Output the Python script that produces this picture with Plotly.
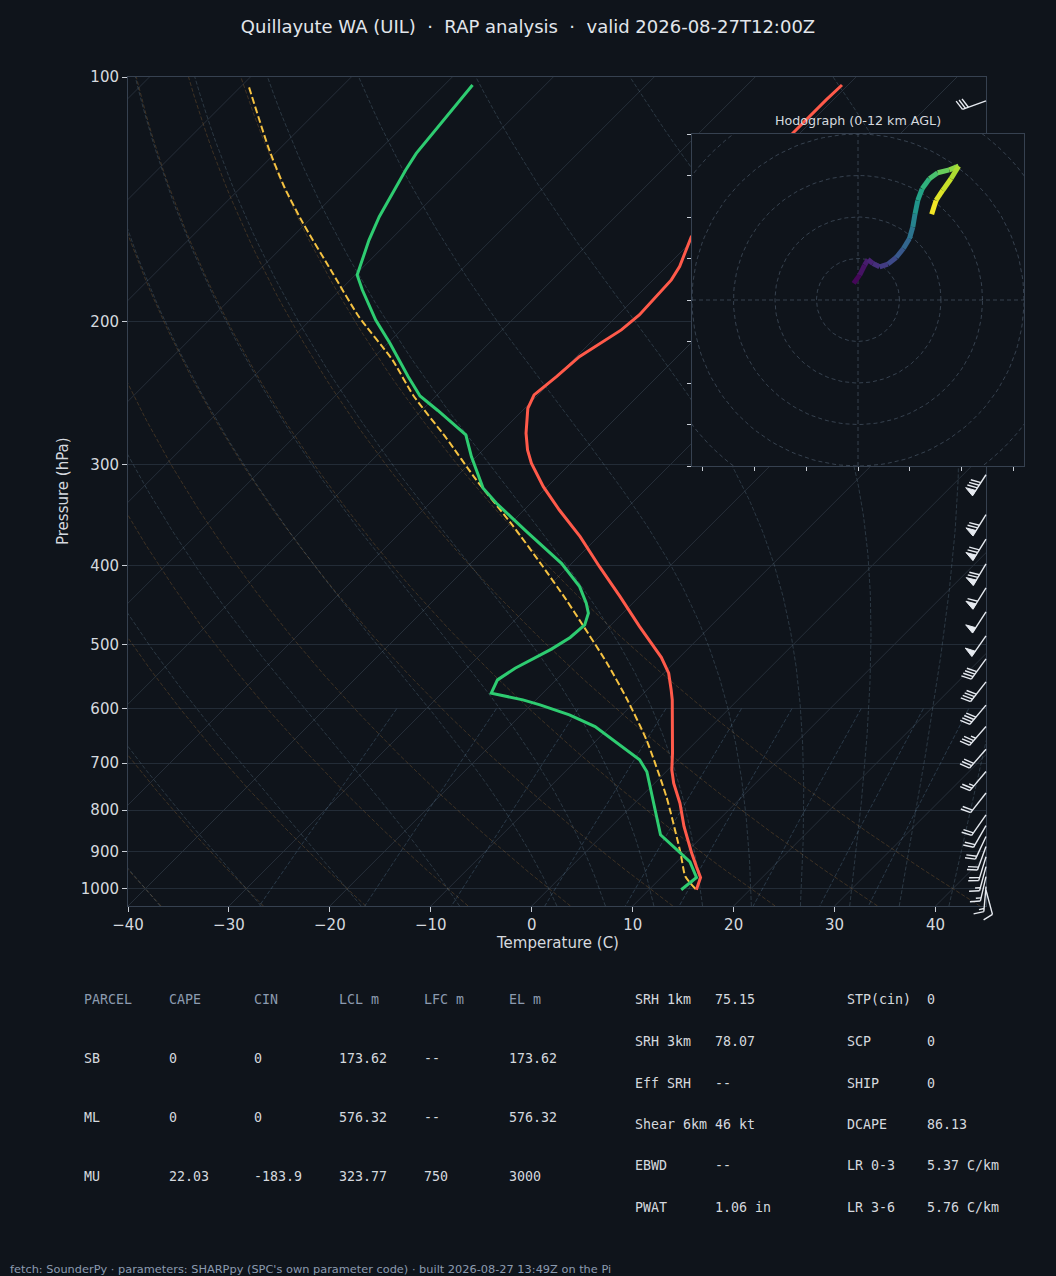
import numpy as np
import plotly.graph_objects as go
from plotly.colors import sample_colorscale

# ---------------- data ----------------
TITLE = "Quillayute WA (UIL)  ·  RAP analysis  ·  valid 2026-08-27T12:00Z"
FOOTER = "fetch: SounderPy · parameters: SHARPpy (SPC's own parameter code) · built 2026-08-27 13:49Z on the Pi"

# temperature profile (hPa, degC)
temp_p = [102.3, 106.7, 117.3, 135.8, 157.3, 171.2, 177.8, 196.4, 204.9, 221.1, 233.9, 246.4,
          255.9, 274.7, 288.0, 299.1, 319.6, 341.5, 368.3, 401.1, 436.6, 475.3, 518.7, 542.5,
          568.8, 585.2, 680.6, 713.9, 741.3, 784.5, 837.9, 903.7, 938.8, 968.5, 1002.8]
temp_c = [-50.6, -50.7, -50.7, -50.7, -50.5, -48.7, -48.2, -47.9, -48.2, -49.7, -50.0, -50.4,
          -49.7, -47.4, -45.6, -43.9, -40.4, -36.5, -31.8, -26.9, -21.9, -17.0, -11.8, -9.5,
          -7.6, -6.5, -1.2, 0.4, 1.9, 4.5, 7.2, 10.6, 12.4, 13.9, 14.7]

# dewpoint profile (hPa, degC)
dewp_p = [102.3, 124.2, 130.2, 148.6, 158.8, 175.4, 183.0, 199.3, 212.8, 233.9, 247.1, 257.5,
          276.0, 293.5, 321.1, 335.0, 363.1, 397.3, 424.4, 444.8, 457.6, 473.1, 490.2, 506.7,
          535.0, 552.9, 574.1, 585.2, 593.6, 610.7, 631.3, 693.6, 717.4, 858.0, 903.7, 926.4,
          968.5, 1002.8]
dewp_c = [-87.2, -86.0, -85.4, -83.4, -82.1, -79.8, -77.8, -73.5, -69.8, -64.7, -61.6, -58.4,
          -53.2, -50.5, -46.2, -43.4, -37.6, -31.0, -26.9, -24.6, -23.4, -22.6, -22.8, -23.5,
          -25.2, -25.8, -25.1, -21.3, -19.1, -15.2, -11.5, -3.8, -1.9, 5.7, 9.5, 11.3,
          13.5, 13.2]

# parcel profile (hPa, degC)
parcel_p = [103.0, 123.0, 137.0, 151.4, 174.5, 197.4, 223.1, 246.4, 278.6, 313.6, 357.9, 401.1,
            440.7, 473.1, 527.3, 582.4, 655.4, 769.9, 903.7, 965.8, 1002.8]
parcel_c = [-109.1, -100.9, -95.6, -90.3, -82.4, -75.5, -67.9, -62.4, -54.8, -47.7, -39.4, -32.5,
            -26.9, -22.8, -16.6, -11.2, -5.1, 2.5, 9.5, 12.3, 14.7]

# wind barbs (hPa, kt, direction from)
barb_p = [107, 309, 346, 371, 398, 426, 456, 488, 521, 556, 594, 631, 673, 717, 762,
          811, 836, 862, 887, 913, 939, 966, 994, 1004]
barb_spd = [30, 80, 70, 70, 70, 60, 50, 50, 40, 40, 40, 35, 30, 25, 20,
            20, 20, 20, 20, 20, 15, 15, 15, 10]
barb_dir = [250, 213, 212, 212, 211, 212, 213, 215, 216, 218, 220, 221, 221, 220, 218,
            215, 210, 205, 200, 197, 195, 193, 185, 165]

# hodograph (kt, kt, km AGL)
hodo_u = [-2.1, 0.8, 3.2, 4.8, 7.2, 10.4, 14.4, 18.4, 21.9, 24.8, 26.4, 27.5, 28.8, 30.9,
          34.4, 38.4, 44.0, 48.5, 44.8, 40.8, 37.6, 35.5]
hodo_v = [8.0, 12.0, 16.8, 19.5, 17.6, 16.0, 17.3, 20.5, 24.8, 29.6, 35.2, 41.6, 48.0, 53.6,
          58.4, 61.3, 62.7, 64.5, 58.4, 52.8, 48.0, 41.3]
hodo_z = [0.0, 0.4, 0.8, 1.0, 1.4, 1.8, 2.4, 3.0, 3.6, 4.2, 5.0, 5.8, 6.6, 7.2,
          8.2, 8.8, 9.6, 10.2, 10.8, 11.2, 11.6, 12.0]
hodo_rings = [20, 40, 60, 80, 100]
hodo_xticks = [-75, -50, -25, 0, 25, 50, 75]
hodo_yticks = [-80, -60, -40, -20, 0, 20, 40, 60, 80]

x_ticks = [-40, -30, -20, -10, 0, 10, 20, 30, 40]
p_ticks = [100, 200, 300, 400, 500, 600, 700, 800, 900, 1000]

# reference lines
dry_t0 = list(range(-40, 41, 10))
moist_t0 = [-40, -30, -20, -10] + list(range(0, 46, 5))
mix_w = [0.0004, 0.001, 0.002, 0.004, 0.007, 0.01, 0.016, 0.024, 0.032]

# tables
parcel_header = ["PARCEL", "CAPE", "CIN", "LCL m", "LFC m", "EL m"]
parcel_rows = [["SB", "0", "0", "173.62", "--", "173.62"],
               ["ML", "0", "0", "576.32", "--", "576.32"],
               ["MU", "22.03", "-183.9", "323.77", "750", "3000"]]
param_left_names = ["SRH 1km", "SRH 3km", "Eff SRH", "Shear 6km", "EBWD", "PWAT"]
param_left_vals = ["75.15", "78.07", "--", "46 kt", "--", "1.06 in"]
param_right_names = ["STP(cin)", "SCP", "SHIP", "DCAPE", "LR 0-3", "LR 3-6"]
param_right_vals = ["0", "0", "0", "86.13", "5.37 C/km", "5.76 C/km"]

# ---------------- geometry ----------------
FIG_W, FIG_H = 1056, 1276
M_L, M_R, M_T, M_B = 128, 30, 77, 330
AREA_W = FIG_W - M_L - M_R
AREA_H = FIG_H - M_T - M_B
MAIN_W, MAIN_H = 858, 829
X_MIN, X_MAX = -40, 45
P_BOT, P_TOP = 1050.0, 100.0
PXC = MAIN_W / (X_MAX - X_MIN)
PXD = MAIN_H / (np.log10(P_BOT) - np.log10(P_TOP))
SKEW = PXD / PXC  # 45 degree isotherms

BG = "#0f141b"
FRAME = "#364150"
TICKC = "#c9ced6"
TXT = "#d5d9df"
HDR = "#8c9bb0"
FONT = "DejaVu Sans"
MONO = "DejaVu Sans Mono"


def skx(t, p):
    return np.asarray(t, float) + SKEW * np.log10(P_BOT / np.asarray(p, float))


def px2paper(px, py):
    return (px - M_L) / AREA_W, (M_T + AREA_H - py) / AREA_H


fig = go.Figure()

# ---------------- background lines ----------------
p_full = np.linspace(P_BOT, P_TOP, 160)

ix, iy = [], []
for t in range(-130, 50, 10):
    ix += [float(skx(t, P_BOT)), float(skx(t, P_TOP)), None]
    iy += [P_BOT, P_TOP, None]
fig.add_trace(go.Scatter(x=ix, y=iy, mode="lines", line=dict(color="#29323d", width=0.9),
                         hoverinfo="skip", xaxis="x", yaxis="y"))

dx, dy = [], []
for th in dry_t0:
    tt = (th + 273.15) * (p_full / 1000.0) ** 0.2857 - 273.15
    dx += list(skx(tt, p_full)) + [None]
    dy += list(p_full) + [None]
fig.add_trace(go.Scatter(x=dx, y=dy, mode="lines",
                         line=dict(color="rgba(190,130,60,0.30)", width=0.9, dash="4px,2px"),
                         hoverinfo="skip", xaxis="x", yaxis="y"))


def dTdp(p, T):
    Rd, Cp, Lv, eps = 287.04, 1005.7, 2.501e6, 0.622
    es = 6.112 * np.exp(17.67 * (T - 273.15) / (T - 29.65))
    rs = eps * es / (p - es)
    return (Rd * T + Lv * rs) / (Cp + Lv * Lv * rs * eps / (Rd * T * T)) / p


def moist_curve(t0c, p_grid):
    T = t0c + 273.15
    out = [T]
    for i in range(len(p_grid) - 1):
        p0, h = p_grid[i], p_grid[i + 1] - p_grid[i]
        k1 = dTdp(p0, T)
        k2 = dTdp(p0 + h / 2, T + h / 2 * k1)
        k3 = dTdp(p0 + h / 2, T + h / 2 * k2)
        k4 = dTdp(p0 + h, T + h * k3)
        T = T + h / 6 * (k1 + 2 * k2 + 2 * k3 + k4)
        out.append(T)
    return np.array(out) - 273.15


mx, my = [], []
p_up = np.linspace(1000.0, P_TOP, 181)
p_dn = np.linspace(1000.0, P_BOT, 11)
for t0 in moist_t0:
    up = moist_curve(t0, p_up)
    dn = moist_curve(t0, p_dn)
    pp = np.concatenate([p_dn[::-1], p_up[1:]])
    tt = np.concatenate([dn[::-1], up[1:]])
    mx += list(skx(tt, pp)) + [None]
    my += list(pp) + [None]
fig.add_trace(go.Scatter(x=mx, y=my, mode="lines",
                         line=dict(color="rgba(120,150,175,0.30)", width=0.9, dash="4px,2px"),
                         hoverinfo="skip", xaxis="x", yaxis="y"))

wx, wy = [], []
p_mr = np.linspace(600.0, P_BOT, 40)
for w in mix_w:
    e = p_mr * w / (0.622 + w)
    lg = np.log(e / 6.112)
    td = 243.5 * lg / (17.67 - lg)
    wx += list(skx(td, p_mr)) + [None]
    wy += list(p_mr) + [None]
fig.add_trace(go.Scatter(x=wx, y=wy, mode="lines",
                         line=dict(color="rgba(110,150,185,0.32)", width=0.9, dash="4px,2px"),
                         hoverinfo="skip", xaxis="x", yaxis="y"))

# ---------------- profiles ----------------
fig.add_trace(go.Scatter(x=skx(parcel_c, parcel_p), y=parcel_p, mode="lines",
                         line=dict(color="#f5c242", width=2, dash="7px,3px", shape="spline",
                                   smoothing=0.6),
                         xaxis="x", yaxis="y", name="parcel"))
fig.add_trace(go.Scatter(x=skx(temp_c, temp_p), y=temp_p, mode="lines",
                         line=dict(color="#ff5a4a", width=3), xaxis="x", yaxis="y", name="T"))
fig.add_trace(go.Scatter(x=skx(dewp_c, dewp_p), y=dewp_p, mode="lines",
                         line=dict(color="#2ecc71", width=3), xaxis="x", yaxis="y", name="Td"))

# ---------------- wind barbs ----------------
L = 25.0
BH, BW, BS = 0.4 * L, 0.25 * L, 0.125 * L
bx, by, fx, fy = [], [], [], []
x_base = X_MAX
for p0, spd, dr in zip(barb_p, barb_spd, barb_dir):
    r = np.deg2rad(dr)
    d = np.array([np.sin(r), np.cos(r)])
    pv = np.array([d[1], -d[0]])
    s5 = int(5 * round(spd / 5.0))
    nflag = s5 // 50
    nbarb = (s5 - 50 * nflag) // 10
    half = (s5 - 50 * nflag - 10 * nbarb) >= 5

    def conv(v):
        return x_base + v[0] / PXC, 10 ** (np.log10(p0) - v[1] / PXD)

    segs = [[np.zeros(2), d * L]]
    polys = []
    off = L
    for i in range(nflag):
        if off != L:
            off += BS / 2
        polys.append([d * off, d * (off - BW / 2) + pv * BH, d * (off - BW)])
        off -= BW + BS
    for i in range(nbarb):
        segs.append([d * off, d * (off + BW / 2) + pv * BH])
        off -= BS
    if half:
        if off == L:
            off -= 1.5 * BS
        segs.append([d * off, d * (off + BW / 4) + pv * BH / 2])
    for sgm in segs:
        for v in sgm:
            a, b = conv(v)
            bx.append(a)
            by.append(b)
        bx.append(None)
        by.append(None)
    for pg in polys:
        for v in pg + [pg[0]]:
            a, b = conv(v)
            fx.append(a)
            fy.append(b)
        fx.append(None)
        fy.append(None)

BARB_C = "#e6eaf0"
fig.add_trace(go.Scatter(x=bx, y=by, mode="lines", line=dict(color=BARB_C, width=1.4),
                         hoverinfo="skip", xaxis="x2", yaxis="y2"))
if fx:
    fig.add_trace(go.Scatter(x=fx, y=fy, mode="lines", fill="toself", fillcolor=BARB_C,
                             line=dict(color=BARB_C, width=1), hoverinfo="skip",
                             xaxis="x2", yaxis="y2"))

# ---------------- hodograph ----------------
ang = np.linspace(0, 2 * np.pi, 181)
rx, ry = [], []
for rr in hodo_rings:
    rx += list(rr * np.cos(ang)) + [None]
    ry += list(rr * np.sin(ang)) + [None]
rx += [-80, 80, None, 0, 0]
ry += [0, 0, None, -80, 80]
fig.add_trace(go.Scatter(x=rx, y=ry, mode="lines",
                         line=dict(color="rgba(120,140,165,0.42)", width=0.9, dash="4px,3px"),
                         hoverinfo="skip", xaxis="x3", yaxis="y3"))
zmax = max(hodo_z)
for i in range(len(hodo_u) - 1):
    c = sample_colorscale("Viridis", [(hodo_z[i] + hodo_z[i + 1]) / 2 / zmax])[0]
    fig.add_trace(go.Scatter(x=hodo_u[i:i + 2], y=hodo_v[i:i + 2], mode="lines",
                             line=dict(color=c, width=5), hoverinfo="skip",
                             xaxis="x3", yaxis="y3"))

# ---------------- layout ----------------
hx0, _ = px2paper(692, 0)
hx1, _ = px2paper(1024, 0)
_, hy0 = px2paper(0, 466)
_, hy1 = px2paper(0, 134)

fig.update_layout(
    width=FIG_W, height=FIG_H,
    margin=dict(l=M_L, r=M_R, t=M_T, b=M_B, autoexpand=False),
    paper_bgcolor=BG, plot_bgcolor="rgba(0,0,0,0)",
    showlegend=False,
    font=dict(family=FONT, color=TXT, size=15),
    title=dict(text=TITLE.replace("  ", "\u00a0\u00a0"), x=0.5, xref="container", xanchor="center",
               y=1 - 27 / FIG_H, yref="container", yanchor="middle",
               font=dict(family=FONT, size=18, color="#e2e6eb")),
    xaxis=dict(domain=[0, MAIN_W / AREA_W], range=[X_MIN, X_MAX], tickvals=x_ticks,
               ticks="outside", ticklen=5, tickcolor=TICKC, tickwidth=1,
               tickfont=dict(size=15, color=TXT), showgrid=False, zeroline=False,
               showline=True, mirror=True, linecolor=FRAME, linewidth=1, anchor="y"),
    yaxis=dict(domain=[(AREA_H - MAIN_H) / AREA_H, 1], type="log",
               range=[np.log10(P_BOT), np.log10(P_TOP)], tickvals=p_ticks,
               ticktext=[str(v) for v in p_ticks], ticks="outside", ticklen=5,
               tickcolor=TICKC, tickwidth=1, tickfont=dict(size=15, color=TXT),
               showgrid=True, gridcolor="#232c37", gridwidth=1, zeroline=False,
               showline=True, mirror=True, linecolor=FRAME, linewidth=1, anchor="x"),
    xaxis2=dict(domain=[0, 1], range=[X_MIN, X_MAX + (AREA_W - MAIN_W) / PXC],
                visible=False, anchor="y2"),
    yaxis2=dict(domain=[0, 1], type="log",
                range=[np.log10(P_BOT) + (AREA_H - MAIN_H) / PXD, np.log10(P_TOP)],
                visible=False, anchor="x2"),
    xaxis3=dict(domain=[hx0, hx1], range=[-80, 80], tickvals=hodo_xticks, showticklabels=False,
                ticks="outside", ticklen=4, tickcolor=TICKC, showgrid=False, zeroline=False,
                showline=True, mirror=True, linecolor=FRAME, anchor="y3"),
    yaxis3=dict(domain=[hy0, hy1], range=[-80, 80], tickvals=hodo_yticks, showticklabels=False,
                ticks="outside", ticklen=4, tickcolor=TICKC, showgrid=False, zeroline=False,
                showline=True, mirror=True, linecolor=FRAME, anchor="x3"),
    shapes=[dict(type="rect", xref="x3", yref="y3", x0=-80, x1=80, y0=-80, y1=80,
                 fillcolor=BG, line=dict(width=0), layer="below")],
)

ann = []


def add_text(px, py, text, size=13.3, color=TXT, family=MONO, xanchor="left", angle=0):
    ax, ay = px2paper(px, py)
    ann.append(dict(x=ax, y=ay, xref="paper", yref="paper", text=text, showarrow=False,
                    xanchor=xanchor, yanchor="middle", textangle=angle, borderpad=0,
                    font=dict(family=family, size=size, color=color)))


add_text(557, 943, "Temperature (C)", size=15, family=FONT, xanchor="center")
add_text(63, 491, "Pressure (hPa)", size=15, family=FONT, xanchor="center", angle=-90)
add_text(858, 120, "Hodograph (0-12 km AGL)", size=12.7, family=FONT, xanchor="center")

col_x = [84, 169, 254, 339, 424, 509]
row_y = [999, 1058, 1117, 1176]
for j, h in enumerate(parcel_header):
    add_text(col_x[j] - 1, row_y[0], h, color=HDR)
for i, row in enumerate(parcel_rows):
    for j, v in enumerate(row):
        add_text(col_x[j] - 1, row_y[i + 1], v)

prow_y = [999, 1041, 1083, 1124, 1165, 1207]
for i in range(6):
    add_text(634, prow_y[i], param_left_names[i])
    add_text(714, prow_y[i], param_left_vals[i])
    add_text(846, prow_y[i], param_right_names[i])
    add_text(926, prow_y[i], param_right_vals[i])

add_text(9, 1269, FOOTER, size=11.35, color=HDR, family=FONT)

fig.update_layout(annotations=ann)
fig.write_html("out.html", config={"displayModeBar": False},
               post_script="document.body.style.margin='0px';document.body.style.padding='0px';")
